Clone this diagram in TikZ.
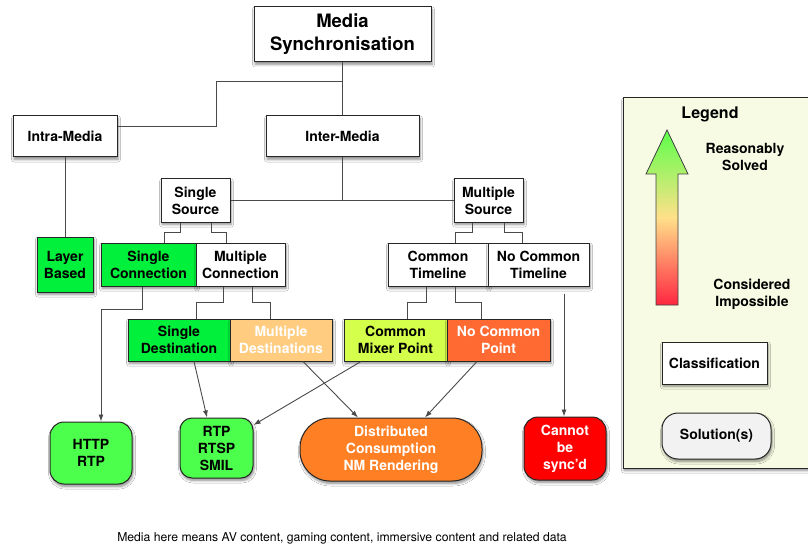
\documentclass[tikz,border=0pt]{standalone}
\usepackage{fontspec}
\setmainfont{TeX Gyre Heros}
\usetikzlibrary{arrows.meta,shadows.blur}

\definecolor{okgreen}{HTML}{00F03C}
\definecolor{lightorange}{HTML}{FFCC80}
\definecolor{limegreen}{HTML}{D4FF4A}
\definecolor{redorange}{HTML}{FF6A33}
\definecolor{solgreen}{HTML}{4DFF4D}
\definecolor{solorange}{HTML}{FF8024}
\definecolor{solred}{HTML}{FF0000}
\definecolor{legendbg}{HTML}{F8FBE3}
\definecolor{legendsol}{HTML}{F2F2F2}
\definecolor{linegray}{HTML}{4A4A4A}

% green (solved) at the tip, pale yellow halfway, red (impossible) at the foot
\pgfdeclareverticalshading{solvedscale}{100bp}{%
  rgb(0bp)=(1,0.15,0.25); rgb(25bp)=(1,0.15,0.25);
  rgb(50bp)=(1,0.88,0.54);
  rgb(75bp)=(0.36,1,0.29); rgb(100bp)=(0.36,1,0.29)}

\begin{document}
\begin{tikzpicture}[x=1pt,y=-1pt,
  sz/.style n args={2}{minimum width=#1pt,minimum height=#2pt},
  softshadow/.style={blur shadow={shadow xshift=1pt,shadow yshift=-2.5pt,
      shadow blur radius=2.5pt,shadow blur steps=6,shadow opacity=45}},
  box/.style={draw=black!85,line width=1pt,fill=white,align=center,inner sep=0pt,
      text=black,font=\bfseries\fontsize{14}{17}\selectfont,softshadow},
  sol/.style={box,rounded corners=14pt},
  conn/.style={draw=linegray,line width=0.9pt},
  arr/.style={conn,-{Latex[length=7pt,width=5pt]}},
  plain/.style={align=center,inner sep=0pt,font=\bfseries\fontsize{14}{17}\selectfont}
]
\useasboundingbox[fill=white] (0,0) rectangle (808,548);

% legend panel
\node[draw=black!85,line width=1pt,fill=legendbg,softshadow,sz={192}{370}] (legend) at (719,283) {};
\node[plain,font=\bfseries\fontsize{16}{19}\selectfont] (legtitle) at (710,114) {Legend};
\shade[shading=solvedscale,draw=black!75,line width=0.8pt]
  (667,130) -- (688,174) -- (678,174) -- (678,305) -- (656,305) -- (656,174) -- (646,174) -- cycle;
\node[plain] (solved) at (745,157) {Reasonably\\Solved};
\node[plain] (impossible) at (752,294) {Considered\\Impossible};
\node[box,sz={105}{42}] (legclass) at (714.5,363) {Classification};
\node[sol,fill=legendsol,sz={109}{46},rounded corners=16pt] (legsol) at (716.5,436) {Solution(s)};

% classification tree
\node[box,font=\bfseries\fontsize{18.5}{23}\selectfont,sz={177}{55}] (media) at (342.5,34.5) {Media\\Synchronisation};
\node[box,sz={104}{41}] (intra) at (65,136.5) {Intra-Media};
\node[box,sz={153}{41}] (inter) at (342.5,136.5) {Inter-Media};
\node[box,sz={69}{43}] (ssrc) at (195.5,200.5) {Single\\Source};
\node[box,sz={69}{43}] (msrc) at (488.5,200.5) {Multiple\\Source};
\node[box,fill=okgreen,sz={56}{55}] (layer) at (65,264.5) {Layer\\Based};
\node[box,fill=okgreen,sz={95}{43}] (sconn) at (148.5,264.5) {Single\\Connection};
\node[box,sz={89}{43}] (mconn) at (240.5,264.5) {Multiple\\Connection};
\node[box,sz={100}{43}] (ctl) at (438,264.5) {Common\\Timeline};
\node[box,sz={101}{43}] (nctl) at (538.5,264.5) {No Common\\Timeline};
\node[box,fill=okgreen,sz={102}{42}] (sdest) at (179,340) {Single\\Destination};
\node[box,fill=lightorange,text=white,sz={102}{42}] (mdest) at (281,340) {Multiple\\Destinations};
\node[box,fill=limegreen,sz={103}{42}] (cmix) at (395.5,340) {Common\\Mixer Point};
\node[box,fill=redorange,text=white,sz={103}{42}] (ncp) at (498.5,340) {No Common\\Point};

% solutions
\node[sol,fill=solgreen,sz={82}{62}] (http) at (91,453) {HTTP\\RTP};
\node[sol,fill=solgreen,sz={73}{60},rounded corners=12pt] (rtp) at (216.5,448) {RTP\\RTSP\\SMIL};
\node[sol,fill=solorange,text=white,sz={182}{63},rounded corners=30pt] (dist) at (391,449.5) {Distributed\\Consumption\\NM Rendering};
\node[sol,fill=solred,text=white,sz={82}{63}] (cannot) at (565,448.5) {Cannot\\be\\sync'd};

% footnote
\node[inner sep=0pt,font=\fontsize{12.2}{14}\selectfont] (note) at (342,538)
  {Media here means AV content, gaming content, immersive content and related data};

% tree connectors
\draw[conn] (media.south) |- ++(-126.5,19) |- ([yshift=10.5pt]intra.east);
\draw[conn] (media.south) -- (inter.north);
\draw[conn] (intra.south) -- (layer.north);
\draw[conn] (inter.south) -- (inter.south |- ssrc.east);
\draw[conn] (ssrc.east) -- (msrc.west);
\draw[conn] ([xshift=-15.5pt]ssrc.south) -- ++(0,10) -| ([xshift=15.5pt]sconn.north);
\draw[conn] ([xshift=15.5pt]ssrc.south) -- ++(0,10) -| ([xshift=-14.5pt]mconn.north);
\draw[conn] ([xshift=-16.5pt]msrc.south) -- ++(0,10) -| ([xshift=17pt]ctl.north);
\draw[conn] ([xshift=15.5pt]msrc.south) -- ++(0,10) -| ([xshift=-16.5pt]nctl.north);
\draw[conn] ([xshift=-17.5pt]mconn.south) -- ++(0,16) -| ([xshift=17pt]sdest.north);
\draw[conn] ([xshift=11.5pt]mconn.south) -- ++(0,16) -| ([xshift=-11pt]mdest.north);
\draw[conn] ([xshift=-12pt]ctl.south) -- ++(0,16) -| ([xshift=11.5pt]cmix.north);
\draw[conn] ([xshift=17pt]ctl.south) -- ++(0,16) -| ([xshift=-17.5pt]ncp.north);

% arrows to solutions
\draw[arr] ([xshift=-6.5pt]sconn.south) -- ++(0,23) -| ([xshift=10pt]http.north);
\draw[arr] ([xshift=15pt]sdest.south) -- ([xshift=-9.5pt]rtp.north);
\draw[arr] ([xshift=-34.5pt]cmix.south) -- ([yshift=23pt]rtp.east);
\draw[arr] ([xshift=22pt]mdest.south) -- ([xshift=-33pt]dist.north);
\draw[arr] ([xshift=-21.5pt]ncp.south) -- ([xshift=34pt]dist.north);
\draw[arr] ([xshift=25.5pt,yshift=-7pt]nctl.south) -- ([xshift=-1pt]cannot.north);
\end{tikzpicture}
\end{document}
